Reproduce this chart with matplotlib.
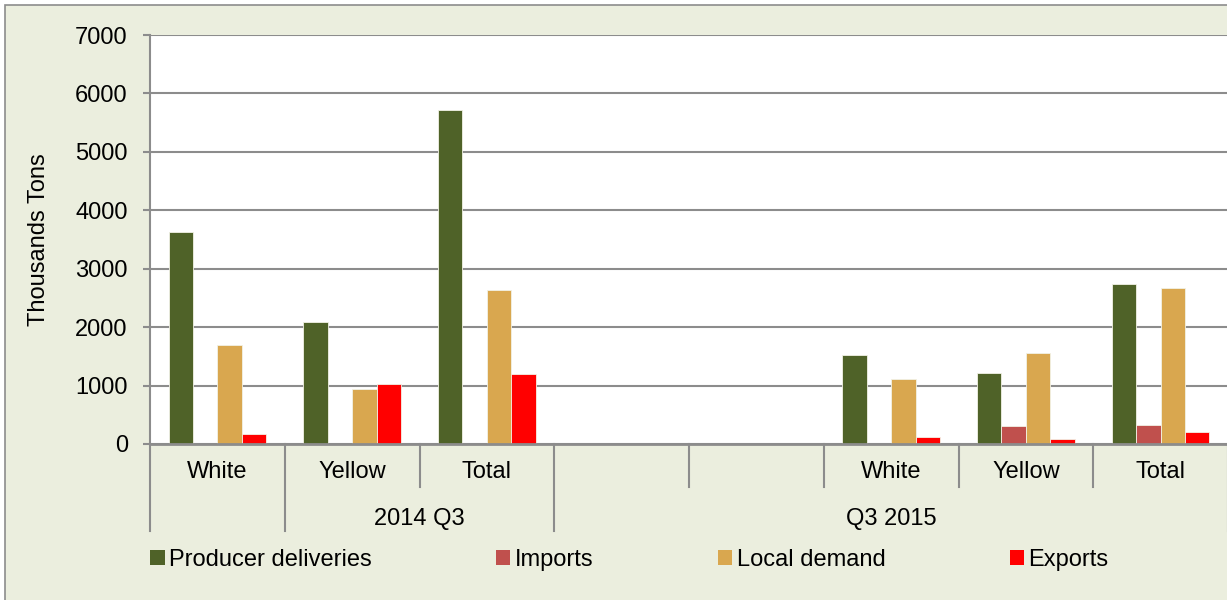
import numpy as np
import matplotlib.pyplot as plt
from matplotlib.patches import Patch, Rectangle
from matplotlib.transforms import blended_transform_factory

plt.rcParams['font.family'] = ['Liberation Sans', 'DejaVu Sans']

# categories (two blank slots between the quarters)
categories = ['White', 'Yellow', 'Total', '', '', 'White', 'Yellow', 'Total']
groups = ['2014 Q3', 'Q3 2015']

series = ['Producer deliveries', 'Imports', 'Local demand', 'Exports']
producer = [3630, 2090, 5715, 0, 0, 1525, 1215, 2740]
imports = [0, 0, 0, 0, 0, 0, 310, 325]
local = [1695, 940, 2635, 0, 0, 1110, 1555, 2670]
exports = [170, 1030, 1200, 0, 0, 120, 85, 205]

colors = ['#4F6228', '#C0504D', '#D9A74F', '#FF0000']
bg = '#EBEEDE'
grey = '#8C8C8C'
fs = 17

fig = plt.figure(figsize=(12.27, 6), dpi=100, facecolor='white')
fig.patches.append(Rectangle((5 / 1227, -0.1), 1.1, 1.1 - 5 / 600,
                             transform=fig.transFigure, facecolor=bg,
                             edgecolor=grey, linewidth=1.2, zorder=-10))

ax = fig.add_axes([150 / 1227, 156 / 600, 1078 / 1227, 409 / 600])
ax.set_facecolor('white')

x = np.arange(len(categories))
w = 0.181
offsets = [-1.5 * w, -0.5 * w, 0.5 * w, 1.5 * w]
for vals, off, c, name in zip([producer, imports, local, exports], offsets, colors, series):
    ax.bar(x + off, vals, width=w, color=c, edgecolor='#F2F2E6', linewidth=0.6,
           label=name, zorder=3)

ax.set_xlim(-0.5, 7.5)
ax.set_ylim(0, 7000)
ax.set_yticks(np.arange(0, 7001, 1000))
ax.tick_params(axis='y', labelsize=fs, length=5, width=1.5, color=grey, pad=11)
ax.grid(axis='y', color=grey, linewidth=1.5, zorder=0)
ax.set_xticks([])
for s in ['top', 'right']:
    ax.spines[s].set_visible(False)
ax.spines['left'].set_color(grey)
ax.spines['left'].set_linewidth(1.5)
ax.spines['bottom'].set_color(grey)
ax.spines['bottom'].set_linewidth(2)
ax.spines['bottom'].set_zorder(4)
ax.set_ylabel('Thousands Tons', fontsize=fs, labelpad=18)

# multi-level category axis
tr = blended_transform_factory(ax.transData, ax.transAxes)
long_lines = [-0.5, 0.5, 2.5, 7.5]
for b in np.arange(-0.5, 8.0, 1.0):
    bottom = -0.212 if b in long_lines else -0.105
    ax.plot([b, b], [0, bottom], transform=tr, color=grey, linewidth=1.5,
            clip_on=False, zorder=4)
for xi, lab in zip(x, categories):
    ax.text(xi, -0.068, lab, transform=tr, ha='center', va='center', fontsize=fs)
ax.text(1.5, -0.183, groups[0], transform=tr, ha='center', va='center', fontsize=fs)
ax.text(5.0, -0.183, groups[1], transform=tr, ha='center', va='center', fontsize=fs)

handles = [Patch(facecolor=c, edgecolor='none') for c in colors]
fig.legend(handles, series, loc='center left', ncol=4, mode='expand',
           bbox_to_anchor=(141 / 1227, 1 - 560 / 600 - 0.03, (1118 - 141) / 1227, 0.06),
           frameon=False, fontsize=fs, handlelength=0.6, handleheight=0.6,
           handletextpad=0.2, borderaxespad=0)

fig.savefig('out.png', dpi=100, facecolor=fig.get_facecolor())
